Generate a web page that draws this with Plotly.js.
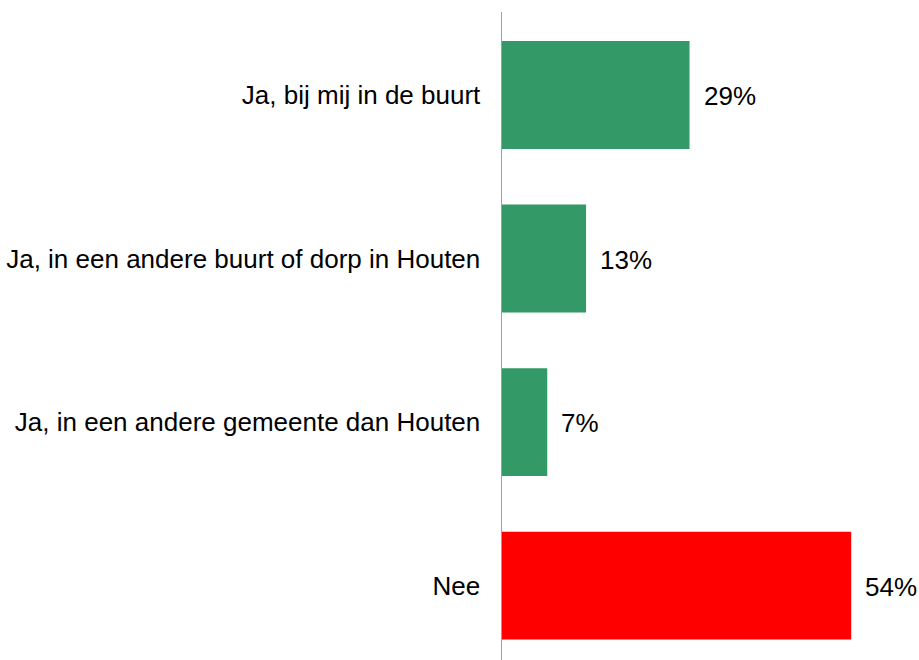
<!DOCTYPE html>
<html><head><meta charset="utf-8">
<script src="https://cdn.plot.ly/plotly-3.0.1.min.js"></script>
<style>html,body{margin:0;padding:0;background:#fff}</style>
</head><body>
<div id="chart" style="width:919px;height:660px"></div>
<script>
const categories = ["Ja, bij mij in de buurt", "Ja, in een andere buurt of dorp in Houten", "Ja, in een andere gemeente dan Houten", "Nee"];
const values = [29, 13, 7, 54];
const labels = ["29%", "13%", "7%", "54%"];
const colors = ["#339966", "#339966", "#339966", "#FF0000"];

const annotations = categories.map((c, i) => ({
  x: values[i], y: c, xref: 'x', yref: 'y', text: labels[i],
  showarrow: false, xanchor: 'left', xshift: 12, yshift: -1,
  font: {family: 'Liberation Sans, Arial, sans-serif', size: 26, color: '#000'}
}));

Plotly.newPlot('chart', [{
  type: 'bar', orientation: 'h', x: values, y: categories,
  marker: {color: colors, line: {width: 0}}, width: 0.66,
  hoverinfo: 'none'
}], {
  width: 919, height: 660,
  margin: {l: 502, r: 29, t: 12, b: 0, pad: 0},
  paper_bgcolor: '#fff', plot_bgcolor: '#fff',
  showlegend: false,
  xaxis: {range: [0, 60], visible: false, showgrid: false, zeroline: false, fixedrange: true},
  yaxis: {type: 'category', range: [3.455, -0.508], showline: true, linecolor: '#a0a0a0', linewidth: 1.5,
    showgrid: false, zeroline: false, ticks: '', ticklabelstandoff: 15,
    tickfont: {family: 'Liberation Sans, Arial, sans-serif', size: 26, color: '#000'}},
  annotations: annotations
}, {displayModeBar: false, staticPlot: true});
</script>
</body></html>
